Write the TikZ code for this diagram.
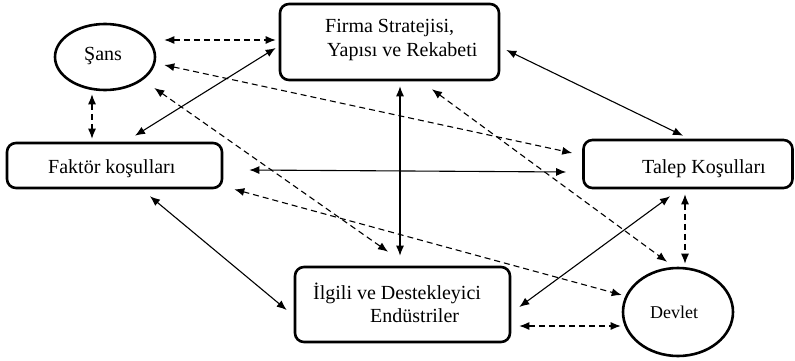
\documentclass[tikz,border=0pt]{standalone}
\usepackage{fontspec}
\setmainfont{Liberation Serif}
\usetikzlibrary{arrows.meta,shapes.geometric}
\begin{document}
\begin{tikzpicture}[x=1pt,y=-1pt,
  boxn/.style={draw,line width=2.6pt,rounded corners=9pt,inner sep=0pt},
  ovaln/.style={draw,ellipse,line width=2.6pt,inner sep=0pt},
  txt/.style={font=\fontsize{20}{24}\selectfont,inner sep=0pt,anchor=base west},
  sol/.style={line width=1.1pt,{Latex[length=10pt,width=8pt]}-{Latex[length=10pt,width=8pt]}},
  dsh/.style={sol,dash pattern=on 6pt off 4pt}]
\useasboundingbox (0,0) rectangle (795,361);
\node[ovaln,minimum width=100pt,minimum height=66pt] (sans) at (105,57) {};
\node[txt] (sansT) at (84,61) {Şans};
\node[boxn,minimum width=219pt,minimum height=76pt] (firma) at (389.5,42) {};
\node[txt] (firmaT1) at (325,33) {Firma Stratejisi,};
\node[txt] (firmaT2) at (327,57) {Yapısı ve Rekabeti};
\node[boxn,minimum width=215pt,minimum height=45pt] (faktor) at (114.5,165.5) {};
\node[txt] (faktorT) at (48,173) {Faktör koşulları};
\node[boxn,minimum width=209pt,minimum height=48pt] (talep) at (688,164) {};
\node[txt] (talepT) at (642,173) {Talep Koşulları};
\node[boxn,minimum width=215pt,minimum height=75pt] (ilgili) at (402.5,304.5) {};
\node[txt] (ilgiliT1) at (313,299) {İlgili ve Destekleyici};
\node[txt] (ilgiliT2) at (370,322) {Endüstriler};
\node[ovaln,minimum width=110pt,minimum height=88pt] (devlet) at (678,312) {};
\node[txt,font=\fontsize{18}{22}\selectfont] (devletT) at (650,318) {Devlet};
% connectors
\draw[dsh] ([shift={(8,-17)}]sans.east) -- ([shift={(-3,-2)}]firma.west);
\draw[dsh] ([shift={(8,8)}]sans.east) -- ([shift={(-10,-11)}]talep.west);
\draw[dsh] ([shift={(-2,31)}]sans.east) -- ([shift={(-14.5,-14)}]ilgili.north);
\draw[dsh] ([shift={(-13,3)}]sans.south) -- ([shift={(-22.5,-3)}]faktor.north);
\draw[sol] ([shift={(20.5,-6)}]faktor.north) -- ([shift={(-3,6)}]firma.west);
\draw[sol] ([shift={(26,4.5)}]faktor.east) -- ([shift={(-16,8)}]talep.west);
\draw[dsh] ([shift={(11,0)}]faktor.south east) -- ([shift={(0,-17)}]devlet.west);
\draw[sol] ([shift={(35.5,7)}]faktor.south) -- ([shift={(-7,5.5)}]ilgili.west);
\draw[sol] ([shift={(6,8)}]firma.east) -- ([shift={(-5,-3)}]talep.north);
\draw[sol] ([shift={(10.5,5)}]firma.south) -- ([shift={(-2.5,-10)}]ilgili.north);
\draw[dsh] ([shift={(42.5,8)}]firma.south) -- ([shift={(-11,-5)}]devlet.north);
\draw[dsh] ([shift={(-3,5)}]talep.south) -- ([shift={(7,-3)}]devlet.north);
\draw[sol] ([shift={(-18,7)}]talep.south) -- ([shift={(8,2.5)}]ilgili.east);
\draw[dsh] ([shift={(8,21.5)}]ilgili.east) -- ([shift={(-1,14)}]devlet.west);
\end{tikzpicture}
\end{document}
